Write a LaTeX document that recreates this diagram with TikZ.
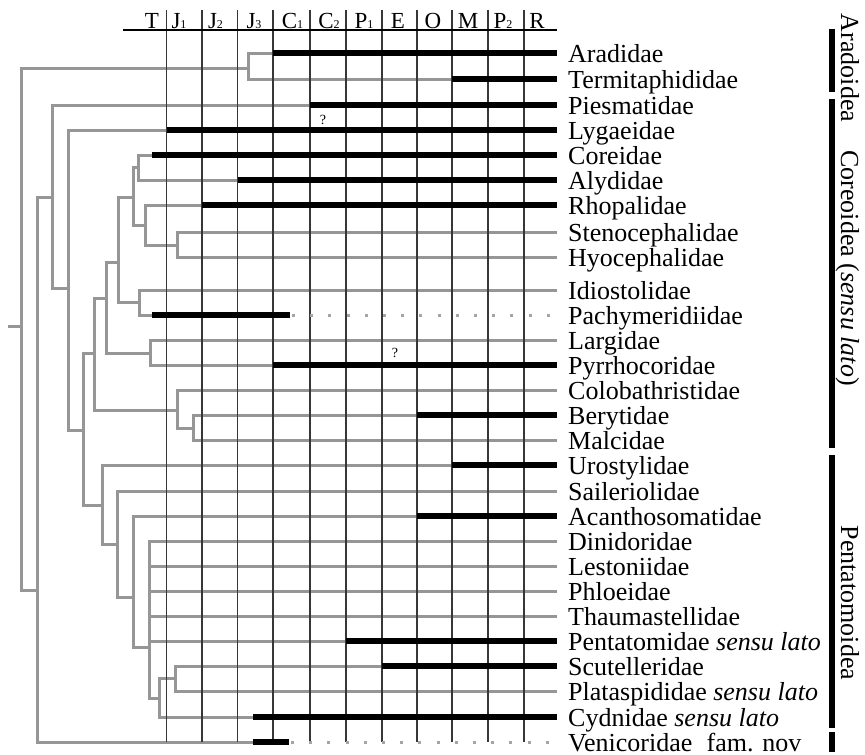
\documentclass[tikz,border=0pt]{standalone}
\usepackage{fontspec}
\setmainfont{Liberation Serif}
\definecolor{treegray}{RGB}{150,150,150}
\definecolor{dotgray}{RGB}{165,165,165}
\definecolor{gridcol}{RGB}{55,55,55}
\newcommand{\sbs}[1]{{\fontsize{12}{12}\selectfont #1}}
\begin{document}
\begin{tikzpicture}[x=1pt,y=-1pt,
  branch/.style={draw=treegray,line width=3pt,line join=miter},
  fossil/.style={draw=black,line width=6pt},
  ghost/.style={draw=dotgray,line width=3pt,dash pattern=on 3pt off 15.2pt},
  gridline/.style={draw=gridcol,line width=1.2pt},
  taxon/.style={anchor=base west,inner sep=0pt,font=\fontsize{26}{26}\selectfont},
  period/.style={anchor=base,inner sep=0pt,font=\fontsize{23}{23}\selectfont},
  grp/.style={rotate=-90,anchor=base,inner sep=0pt,font=\fontsize{26}{26}\selectfont},
  qmark/.style={inner sep=0pt,font=\fontsize{14}{14}\selectfont},
  grpbar/.style={draw=black,line width=6pt}]
\useasboundingbox (0,0) rectangle (865,755);

% leaves and labels
\foreach \y/\t [count=\i] in {
  53/Aradidae, 79/Termitaphididae, 105/Piesmatidae, 130/Lygaeidae,
  155/Coreidae, 180/Alydidae, 205/Rhopalidae, 232/Stenocephalidae,
  257/Hyocephalidae, 290/Idiostolidae, 315/Pachymeridiidae, 340/Largidae,
  365/Pyrrhocoridae, 390/Colobathristidae, 415/Berytidae, 440/Malcidae,
  465/Urostylidae, 491/Saileriolidae, 516/Acanthosomatidae, 541/Dinidoridae,
  566/Lestoniidae, 591/Phloeidae, 616/Thaumastellidae,
  641/{Pentatomidae \textit{sensu lato}}, 666/Scutelleridae,
  691/{Plataspididae \textit{sensu lato}}, 717/{Cydnidae \textit{sensu lato}},
  742/{Venicoridae\hspace{0.55em}fam. nov}} {
  \coordinate (l\i) at (557,\y);
  \node[taxon] (t\i) at (568,\y+9) {\t};
}

% fossil record start points
\coordinate (s1) at (273,53);
\coordinate (s2) at (452,79);
\coordinate (s3) at (310,105);
\coordinate (s4) at (166.5,130);
\coordinate (s5) at (152,155);
\coordinate (s6) at (237.5,180);
\coordinate (s7) at (202,205);
\coordinate (s11) at (152,315);
\coordinate (e11) at (290,315);
\coordinate (d11) at (292,315);
\coordinate (s13) at (273,365);
\coordinate (s15) at (417,415);
\coordinate (s17) at (452,465);
\coordinate (s19) at (417,516);
\coordinate (s24) at (346,641);
\coordinate (s25) at (382,666);
\coordinate (s27) at (253,717);
\coordinate (s28) at (253,742);
\coordinate (e28) at (289,742);
\coordinate (d28) at (291,742);
\coordinate (f28) at (550,742);

% internal nodes
\coordinate (stub) at (8,326);
\coordinate (A) at (21,326);
\coordinate (Ar) at (248,68);
\coordinate (B) at (37,590);
\coordinate (C) at (52,197);
\coordinate (D) at (68,288);
\coordinate (E) at (83,430);
\coordinate (F) at (94,353);
\coordinate (G) at (106,298);
\coordinate (H) at (118,262);
\coordinate (I) at (133,197);
\coordinate (CA) at (138,167);
\coordinate (RS) at (145,225);
\coordinate (SH) at (177,245);
\coordinate (IP) at (139,302);
\coordinate (LP) at (150,353);
\coordinate (K) at (177,410);
\coordinate (BM) at (193,428);
\coordinate (P) at (102,505);
\coordinate (Q) at (117,544);
\coordinate (R) at (133,597);
\coordinate (S) at (149,647);
\coordinate (T) at (159,698);
\coordinate (U) at (175,678);

% tree
\draw[branch] (stub) -- (A);
\draw[branch] (A) |- (Ar);
\draw[branch] (A) |- (B);
\draw[branch] (Ar) |- (l1);
\draw[branch] (Ar) |- (l2);
\draw[branch] (B) |- (C);
\draw[branch] (B) |- (s28);
\draw[branch] (C) |- (l3);
\draw[branch] (C) |- (D);
\draw[branch] (D) |- (l4);
\draw[branch] (D) |- (E);
\draw[branch] (E) |- (F);
\draw[branch] (E) |- (P);
\draw[branch] (F) |- (G);
\draw[branch] (F) |- (K);
\draw[branch] (G) |- (H);
\draw[branch] (G) |- (LP);
\draw[branch] (H) |- (I);
\draw[branch] (H) |- (IP);
\draw[branch] (I) |- (CA);
\draw[branch] (I) |- (RS);
\draw[branch] (CA) |- (l5);
\draw[branch] (CA) |- (l6);
\draw[branch] (RS) |- (l7);
\draw[branch] (RS) |- (SH);
\draw[branch] (SH) |- (l8);
\draw[branch] (SH) |- (l9);
\draw[branch] (IP) |- (l10);
\draw[branch] (IP) |- (s11);
\draw[branch] (LP) |- (l12);
\draw[branch] (LP) |- (l13);
\draw[branch] (K) |- (l14);
\draw[branch] (K) |- (BM);
\draw[branch] (BM) |- (l15);
\draw[branch] (BM) |- (l16);
\draw[branch] (P) |- (l17);
\draw[branch] (P) |- (Q);
\draw[branch] (Q) |- (l18);
\draw[branch] (Q) |- (R);
\draw[branch] (R) |- (l19);
\draw[branch] (R) |- (S);
\foreach \j in {20,...,24} { \draw[branch] (S) |- (l\j); }
\draw[branch] (S) |- (T);
\draw[branch] (T) |- (U);
\draw[branch] (T) |- (l27);
\draw[branch] (U) |- (l25);
\draw[branch] (U) |- (l26);

% time grid
\foreach \x [count=\i] in {166.5,202,237.5,273,310,346,382,417,452,488,524} {
  \coordinate (gt\i) at (\x,10);
  \coordinate (gb\i) at (\x,742);
  \draw[gridline] (gt\i) -- (gb\i);
}
\coordinate (ul) at (123,30);
\coordinate (ur) at (557,30);
\draw[draw=black,line width=1.2pt] (ul) -- (ur);

% period labels
\node[period] (pT)  at (152,28) {T};
\node[period] (pJ1) at (179,28) {J\sbs{1}};
\node[period] (pJ2) at (215.5,28) {J\sbs{2}};
\node[period] (pJ3) at (254,28) {J\sbs{3}};
\node[period] (pC1) at (292.5,28) {C\sbs{1}};
\node[period] (pC2) at (329,28) {C\sbs{2}};
\node[period] (pP1) at (364,28) {P\sbs{1}};
\node[period] (pE)  at (398,28) {E};
\node[period] (pO)  at (433,28) {O};
\node[period] (pM)  at (468,28) {M};
\node[period] (pP2) at (503,28) {P\sbs{2}};
\node[period] (pR)  at (537,28) {R};

% fossil ranges
\foreach \j in {1,2,3,4,5,6,7,13,15,17,19,24,25,27} {
  \draw[fossil] (s\j) -- (l\j);
}
\draw[fossil] (s11) -- (e11);
\draw[ghost] (d11) -- (l11);
\draw[fossil] (s28) -- (e28);
\draw[ghost] (d28) -- (f28);

% question marks
\node[qmark] (q1) at (323,120) {?};
\node[qmark] (q2) at (395,353) {?};

% group bars and labels
\coordinate (ga1) at (832,29);  \coordinate (ga2) at (832,92);
\coordinate (gc1) at (832,99);  \coordinate (gc2) at (832,448);
\coordinate (gp1) at (832,455); \coordinate (gp2) at (832,728);
\coordinate (gv1) at (832,732); \coordinate (gv2) at (832,752);
\draw[grpbar] (ga1) -- (ga2);
\draw[grpbar] (gc1) -- (gc2);
\draw[grpbar] (gp1) -- (gp2);
\draw[grpbar] (gv1) -- (gv2);
\node[grp] (nAra) at (841,68) {Aradoidea};
\node[grp] (nCor) at (841,268) {Coreoidea (\textit{sensu lato})};
\node[grp] (nPen) at (841,603) {Pentatomoidea};
\end{tikzpicture}
\end{document}
